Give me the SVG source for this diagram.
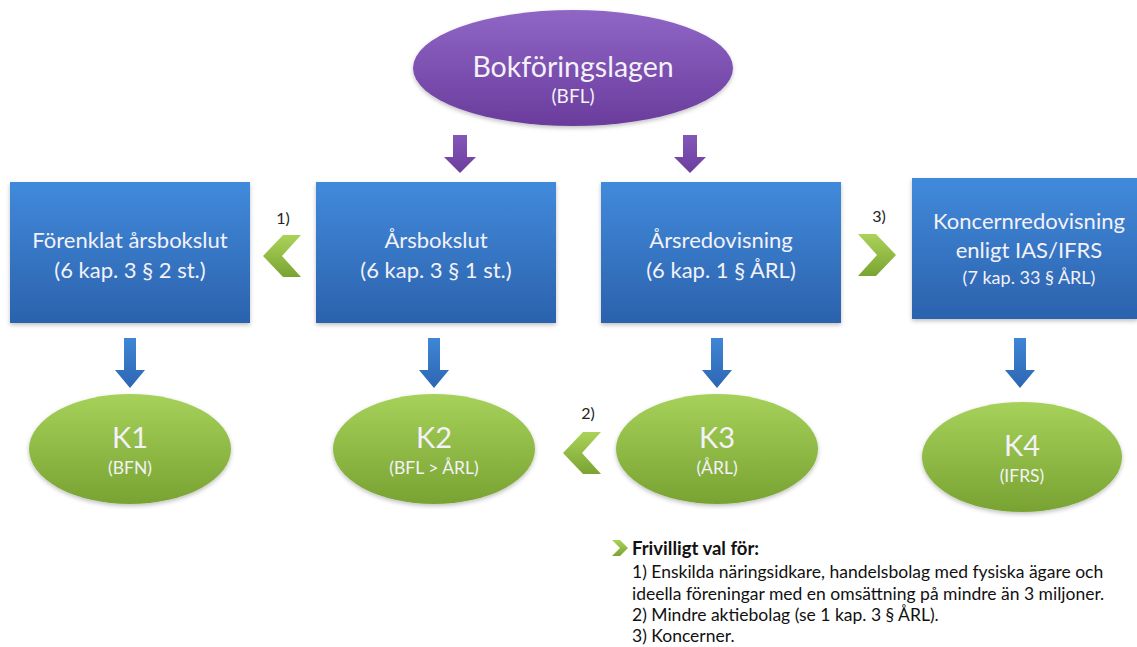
<svg xmlns="http://www.w3.org/2000/svg" width="1137" height="647" viewBox="0 0 1137 647">
<defs>
<linearGradient id="gPurple" x1="0" y1="0" x2="0" y2="1"><stop offset="0" stop-color="#8f66c6"/><stop offset="1" stop-color="#6a3c9c"/></linearGradient>
<linearGradient id="gBlue" x1="0" y1="0" x2="0" y2="1"><stop offset="0" stop-color="#418adb"/><stop offset="1" stop-color="#2b62ad"/></linearGradient>
<linearGradient id="gGreen" x1="0" y1="0" x2="0" y2="1"><stop offset="0" stop-color="#a6d15a"/><stop offset="1" stop-color="#78a332"/></linearGradient>
<linearGradient id="gChev" x1="0" y1="0" x2="0" y2="1"><stop offset="0" stop-color="#abd35a"/><stop offset="1" stop-color="#7aa332"/></linearGradient>
<linearGradient id="gArrP" x1="0" y1="0" x2="0" y2="1"><stop offset="0" stop-color="#8456b8"/><stop offset="1" stop-color="#6b3d9d"/></linearGradient>
<linearGradient id="gArrB" x1="0" y1="0" x2="0" y2="1"><stop offset="0" stop-color="#3f86d6"/><stop offset="1" stop-color="#2d66b3"/></linearGradient>
<filter id="sh" x="-10%" y="-10%" width="120%" height="130%"><feDropShadow dx="0" dy="2" stdDeviation="2" flood-color="#000" flood-opacity="0.25"/></filter>
<path id="arrP" d="M-7,0 H7 V22 H16 L0,38 L-16,22 H-7 Z"/>
<path id="arrB" d="M-6,0 H6 V32 H15 L0,50 L-15,32 H-6 Z"/>
<path id="chevL" d="M0,21 L20,0 L38,0 L19,21 L38,42 L20,42 Z"/>
<path id="chevR" d="M38,21 L18,0 L0,0 L19,21 L0,42 L18,42 Z"/>
</defs>
<style>
text{font-family:Lato,"Open Sans","Liberation Sans",sans-serif;text-anchor:middle;}
.w{fill:#f4f1f8;}
.box{fill:url(#gBlue);filter:url(#sh);}
.ell{fill:url(#gGreen);filter:url(#sh);}
.bt{font-size:22px;}
.kt{font-size:29px;}
.ks{font-size:17.5px;}
.lbl{font-size:16px;fill:#222;}
.leg{font-size:17.5px;fill:#111;text-anchor:start;}
</style>
<rect width="1137" height="647" fill="#ffffff"/>

<g id="bfl">
<ellipse cx="573" cy="68" rx="160" ry="58" fill="url(#gPurple)" filter="url(#sh)"/>
<text x="573" y="77" class="w" style="font-size:28.5px">Bokföringslagen</text>
<text x="573" y="103" class="w" style="font-size:19px">(BFL)</text>
</g>

<g id="forenklat">
<rect x="10" y="182" width="240" height="141" class="box"/>
<text x="130" y="248" class="w bt">Förenklat årsbokslut</text>
<text x="130" y="278" class="w bt">(6 kap. 3 § 2 st.)</text>
</g>

<g id="arsbokslut">
<rect x="316" y="182" width="240" height="141" class="box"/>
<text x="436" y="248" class="w bt">Årsbokslut</text>
<text x="436" y="278" class="w bt">(6 kap. 3 § 1 st.)</text>
</g>

<g id="arsredovisning">
<rect x="601" y="182" width="240" height="141" class="box"/>
<text x="721" y="248" class="w bt">Årsredovisning</text>
<text x="721" y="278" class="w bt">(6 kap. 1 § ÅRL)</text>
</g>

<g id="koncern">
<rect x="912" y="178" width="226" height="141" class="box"/>
<text x="1029" y="229" class="w bt">Koncernredovisning</text>
<text x="1029" y="258" class="w bt">enligt IAS/IFRS</text>
<text x="1029" y="284" class="w" style="font-size:18px">(7 kap. 33 § ÅRL)</text>
</g>

<g id="k1">
<ellipse cx="130" cy="449" rx="101" ry="55" class="ell"/>
<text x="130" y="448" class="w kt">K1</text>
<text x="130" y="474" class="w ks">(BFN)</text>
</g>

<g id="k2">
<ellipse cx="434" cy="449" rx="101" ry="55" class="ell"/>
<text x="434" y="448" class="w kt">K2</text>
<text x="434" y="474" class="w ks">(BFL &gt; ÅRL)</text>
</g>

<g id="k3">
<ellipse cx="717" cy="449" rx="101" ry="55" class="ell"/>
<text x="717" y="448" class="w kt">K3</text>
<text x="717" y="474" class="w ks">(ÅRL)</text>
</g>

<g id="k4">
<ellipse cx="1022" cy="457" rx="100" ry="55" class="ell"/>
<text x="1022" y="456" class="w kt">K4</text>
<text x="1022" y="482" class="w ks">(IFRS)</text>
</g>

<g id="connectors">
<use href="#arrP" x="460" y="135" fill="url(#gArrP)"/>
<use href="#arrP" x="690" y="135" fill="url(#gArrP)"/>
<use href="#arrB" x="130" y="338" fill="url(#gArrB)"/>
<use href="#arrB" x="434" y="338" fill="url(#gArrB)"/>
<use href="#arrB" x="717" y="338" fill="url(#gArrB)"/>
<use href="#arrB" x="1020" y="338" fill="url(#gArrB)"/>
<use href="#chevL" x="263" y="235" fill="url(#gChev)"/>
<text x="283" y="224" class="lbl">1)</text>
<use href="#chevL" x="563" y="432" fill="url(#gChev)"/>
<text x="588" y="419" class="lbl">2)</text>
<use href="#chevR" x="858" y="234" fill="url(#gChev)"/>
<text x="879" y="222" class="lbl">3)</text>
</g>

<g id="legend">
<path d="M612,540 L620,540 L628,548 L620,556 L612,556 L620,548 Z" fill="url(#gChev)"/>
<text x="632" y="555" class="leg" style="font-weight:bold;font-size:18.5px">Frivilligt val för:</text>
<text x="632" y="578" class="leg">1) Enskilda näringsidkare, handelsbolag med fysiska ägare och</text>
<text x="632" y="600" class="leg">ideella föreningar med en omsättning på mindre än 3 miljoner.</text>
<text x="632" y="621" class="leg">2) Mindre aktiebolag (se 1 kap. 3 § ÅRL).</text>
<text x="632" y="642" class="leg">3) Koncerner.</text>
</g>
</svg>
